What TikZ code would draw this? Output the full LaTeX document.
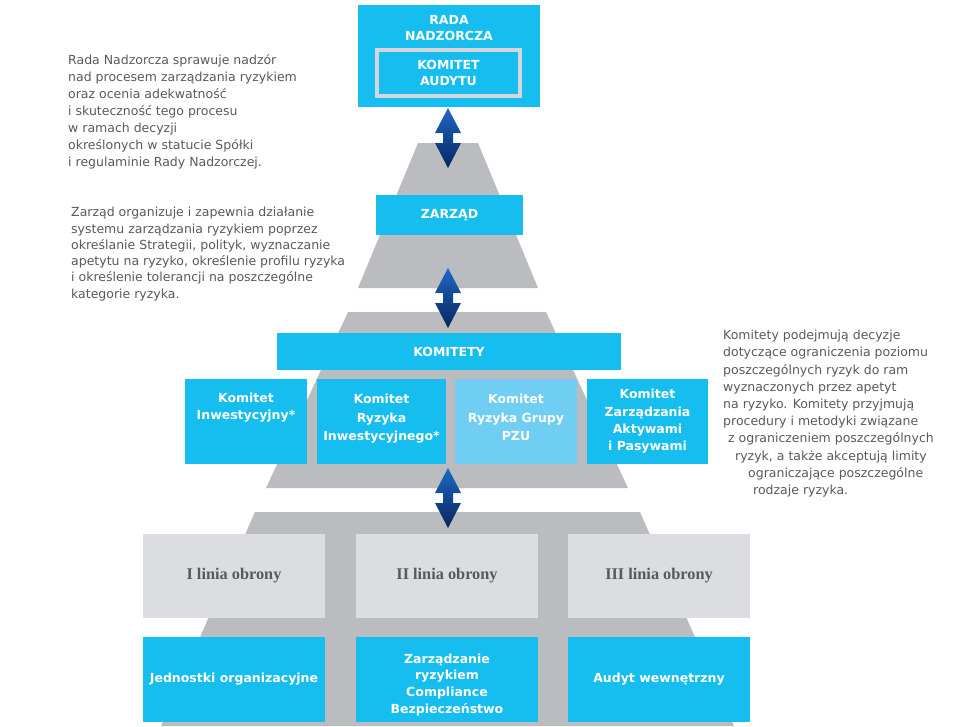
\documentclass[tikz,border=0pt]{standalone}
\usepackage{fontspec}
\setmainfont{DejaVu Sans}
\newfontfamily\liniafont{Liberation Serif}
\usetikzlibrary{positioning}

\definecolor{pzublue}{RGB}{22,189,239}
\definecolor{pzulight}{RGB}{112,206,242}
\definecolor{pyrgray}{RGB}{187,188,192}
\definecolor{liniagray}{RGB}{220,221,224}
\definecolor{framegray}{RGB}{212,214,219}
\definecolor{notegray}{RGB}{88,89,91}
\definecolor{arrowtop}{RGB}{30,105,196}
\definecolor{arrowbot}{RGB}{8,36,92}

\tikzset{
  box/.style={fill=pzublue,text=white,font=\fontsize{12.5}{16.5}\selectfont\bfseries,
    align=center,inner sep=0pt},
  linia/.style={fill=liniagray,text=notegray,font=\liniafont\fontsize{16.3}{18}\selectfont\bfseries,
    minimum width=182pt,minimum height=84pt,inner sep=0pt},
  note/.style={text=notegray,font=\fontsize{12.5}{17}\selectfont,align=left,
    anchor=north west,inner sep=0pt},
  tier/.style={fill=pyrgray},
  arrowfill/.style={top color=arrowtop,bottom color=arrowbot}
}
\newcommand{\dblarrow}[1]{%
  \shade[arrowfill] (#1) -- ++(13,25) -- ++(-8,0) -- ++(0,10) -- ++(8,0) -- ++(-13,25)
    -- ++(-13,-25) -- ++(8,0) -- ++(0,-10) -- ++(-8,0) -- cycle;}

\begin{document}
\begin{tikzpicture}[x=1pt,y=-1pt]
\useasboundingbox (0,0) rectangle (972,726);

% pyramid
\fill[tier] (418,143) -- (478,143) -- (538,288) -- (358,288) -- cycle;
\fill[tier] (348,312) -- (546,312) -- (628,488) -- (266,488) -- cycle;
\fill[tier] (255,512) -- (640,512) -- (734,726) -- (161,726) -- cycle;

% top
\node[box,minimum width=182pt,minimum height=102pt] (rada) at (449,56) {};
\node[box,fill=none] (radatxt) at (449,28) {RADA\\NADZORCZA};
\node[box,draw=framegray,line width=4pt,minimum width=143pt,minimum height=46pt]
  (audyt) at (448.5,73) {KOMITET\\AUDYTU};

\node[box,minimum width=147pt,minimum height=40pt] (zarzad) at (449.5,215) {ZARZĄD};
\node[box,minimum width=344pt,minimum height=37pt] (komitety) at (449,351.5) {KOMITETY};

% committees
\node[box,minimum width=122pt,minimum height=85pt] (kinw) at (246,421.5)
  {Komitet\\Inwestycyjny*\\[14pt]};
\node[box,font=\fontsize{12.5}{18.5}\selectfont\bfseries,minimum width=129pt,minimum height=85pt]
  (kryz) at (381.5,421.5) {Komitet\\Ryzyka\\Inwestycyjnego*\\[-10.5pt]};
\node[box,font=\fontsize{12.5}{18.5}\selectfont\bfseries,fill=pzulight,minimum width=122pt,
  minimum height=85pt] (kgrupy) at (516,421.5) {Komitet\\Ryzyka Grupy\\PZU\\[-10.5pt]};
\node[box,font=\fontsize{12.5}{17.3}\selectfont\bfseries,minimum width=121pt,minimum height=85pt]
  (kaktyw) at (647.5,421.5) {Komitet\\Zarządzania\\Aktywami\\i Pasywami};

% lines of defence
\node[linia] (l1) at (234,576) {I linia obrony};
\node[linia] (l2) at (447,576) {II linia obrony};
\node[linia] (l3) at (659,576) {III linia obrony};
\node[box,minimum width=182pt,minimum height=85pt] (jedn) at (234,679.5)
  {Jednostki organizacyjne};
\node[box,font=\fontsize{12.5}{16.7}\selectfont\bfseries,minimum width=182pt,minimum height=85pt]
  (zarz) at (447,679.5) {\rule{0pt}{20pt}Zarządzanie\\ryzykiem\\Compliance\\Bezpieczeństwo};
\node[box,minimum width=182pt,minimum height=85pt] (audw) at (659,679.5)
  {Audyt wewnętrzny};

% arrows
\coordinate (a1) at (448,108);
\coordinate (a2) at (448,268);
\coordinate (a3) at (448,468);
\dblarrow{a1}
\dblarrow{a2}
\dblarrow{a3}

% notes
\node[note] (nrada) at (68,54) {Rada Nadzorcza sprawuje nadzór\\
  nad procesem zarządzania ryzykiem\\oraz ocenia adekwatność\\
  i skuteczność tego procesu\\w ramach decyzji\\
  określonych w statucie Spółki\\i regulaminie Rady Nadzorczej.};
\node[note,font=\fontsize{12.5}{16.3}\selectfont] (nzarzad) at (71,207)
  {Zarząd organizuje i zapewnia działanie\\
  systemu zarządzania ryzykiem poprzez\\
  określanie Strategii, polityk, wyznaczanie\\
  apetytu na ryzyko, określenie profilu ryzyka\\
  i określenie tolerancji na poszczególne\\kategorie ryzyka.};
\node[note,font=\fontsize{12.5}{17.2}\selectfont] (nkomitety) at (723,330)
  {Komitety podejmują decyzje\\dotyczące ograniczenia poziomu\\
  poszczególnych ryzyk do ram\\wyznaczonych przez apetyt\\
  na ryzyko. Komitety przyjmują\\procedury i metodyki związane\\
  \hspace*{5pt}z ograniczeniem poszczególnych\\
  \hspace*{12pt}ryzyk, a także akceptują limity\\
  \hspace*{25pt}ograniczające poszczególne\\
  \hspace*{30pt}rodzaje ryzyka.};
\end{tikzpicture}
\end{document}
